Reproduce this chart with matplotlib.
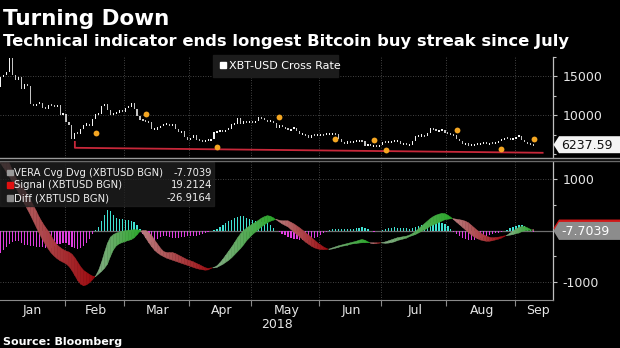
import numpy as np
import pandas as pd
import matplotlib
matplotlib.use("Agg")
import matplotlib.pyplot as plt
from matplotlib.patches import Polygon, Rectangle
from matplotlib.lines import Line2D

plt.rcParams["axes.unicode_minus"] = False
plt.rcParams["font.family"] = ["DejaVu Sans"]

# ---------------------------------------------------------------- data
# XBT-USD cross rate, weekday closes 2018-01-01 .. 2018-09-11
close_jan = [13657, 14982, 15201, 15599, 17429, 15170, 14595, 14973, 13405, 13980,
             13819, 11490, 11188, 11474, 11607, 10931, 10868, 11359, 11259, 11171,
             11296, 10106, 10221]
close_feb = [9170, 8830, 6955, 7754, 7621, 8265, 8736, 8926, 8598, 9494,
             10166, 10233, 11225, 11403, 10690, 10005, 10301, 10366, 10725, 10397]
close_mar = [10951, 11086, 11573, 10779, 9965, 9395, 9337, 9205, 9194, 8269,
             8300, 8338, 8630, 8913, 8929, 8728, 8879, 8209, 7833, 7954,
             7165, 6891]
close_apr = [7083, 7456, 6854, 6811, 6636, 6770, 6834, 6968, 7889, 7895,
             8058, 7902, 8163, 8294, 8845, 8931, 9652, 8864, 9279, 8988, 9240]
close_may = [9119, 9235, 9744, 9700, 9373, 9234, 9325, 9043, 8441, 8716,
             8510, 8368, 8094, 8250, 8418, 8041, 7557, 7587, 7480, 7135,
             7472, 7406, 7494]
close_jun = [7541, 7514, 7633, 7653, 7678, 7624, 6906, 6582, 6349, 6675,
             6456, 6689, 6729, 6751, 6720, 6059, 6249, 6093, 6157, 5903, 6218]
close_jul = [6614, 6529, 6597, 6639, 6673, 6741, 6329, 6394, 6228, 6239,
             6741, 7321, 7370, 7467, 7355, 7711, 8424, 8181, 7951, 8165,
             8180, 7780]
close_aug = [7625, 7567, 7434, 6952, 6753, 6306, 6376, 6150, 6239, 6274,
             6323, 6386, 6612, 6284, 6493, 6412, 6532, 6707, 6914, 7092,
             7047, 6979, 7037]
close_sep = [7261, 7362, 6793, 6530, 6422, 6251, 6237.59]

# VERA convergence/divergence line and its histogram (Diff)
vera_jan = [1350, 1300, 1220, 1130, 1040, 940, 840, 740, 630, 520, 410, 300, 180,
            60, -60, -170, -270, -360, -440, -500, -550, -590, -620]
vera_feb = [-650, -700, -780, -880, -980, -1050, -1080, -1060, -1020, -960,
            -890, -780, -620, -430, -250, -130, -80, -50, -30, -15]
vera_mar = [-5, 5, 10, 15, 15, 5, -60, -150, -240, -320, -390, -440, -480, -510,
            -540, -560, -580, -600, -620, -640, -660, -680]
vera_apr = [-700, -720, -740, -755, -765, -775, -770, -740, -720, -690, -630,
            -560, -480, -400, -320, -230, -140, -60, 0, 50, 90]
vera_may = [130, 160, 200, 240, 270, 290, 280, 250, 210, 170, 130, 100, 70, 20,
            -30, -80, -130, -180, -230, -270, -310, -340, -360]
vera_jun = [-370, -375, -370, -360, -340, -320, -300, -285, -270, -255, -240,
            -225, -210, -190, -175, -190, -220, -250, -260, -255, -245]
vera_jul = [-235, -220, -200, -180, -160, -140, -130, -120, -110, -90, -60, -20,
            30, 80, 130, 180, 230, 270, 300, 320, 335, 330]
vera_aug = [300, 260, 210, 160, 110, 60, 10, -40, -90, -130, -160, -185, -200,
            -210, -210, -200, -185, -170, -150, -120, -90, -50, -10]
vera_sep = [30, 60, 80, 75, 50, 20, -7.70394]

diff_jan = [-450, -430, -380, -320, -260, -220, -200, -210, -250, -280, -290, -300,
            -310, -320, -320, -330, -340, -350, -340, -300, -270, -260, -250]
diff_feb = [-250, -280, -320, -350, -360, -340, -300, -240, -160, -70,
            10, 70, 180, 310, 410, 380, 300, 250, 230, 220]
diff_mar = [210, 200, 190, 160, 100, 20, -60, -150, -200, -220, -200, -170, -130,
            -100, -110, -130, -150, -150, -140, -130, -120, -110]
diff_apr = [-110, -110, -100, -90, -70, -50, -30, -10, 10, 30, 60, 100, 140, 180,
            210, 240, 270, 290, 280, 250, 230]
diff_may = [210, 190, 180, 170, 160, 140, 100, 50, -10, -30, -60, -90, -120, -140,
            -160, -170, -180, -185, -185, -180, -170, -150, -120]
diff_jun = [-90, -55, -20, 10, 20, 25, 30, 25, 30, 35, 30, 35, 45, 55, 65, 50, 20,
            -10, -20, -15, -5]
diff_jul = [10, 30, 45, 55, 60, 55, 50, 45, 40, 30, 40, 60, 80, 100, 120, 140, 150,
            160, 170, 160, 150, 120]
diff_aug = [80, 30, -20, -60, -100, -140, -170, -190, -190, -180, -160, -140, -120,
            -100, -80, -60, -50, -40, -30, -15, 10, 40, 70]
diff_sep = [90, 110, 100, 80, 50, 15, -26.91638]

# signal markers on the price panel (weekday index, level)
signal_idx = [33, 50, 74, 95, 114, 127, 131, 155, 170, 181]
signal_lvl = [7730, 10130, 5940, 9740, 6920, 6800, 5510, 8115, 5680, 6920]

# support line under the price (weekday index, level)
support_idx = [26, 26, 184]
support_lvl = [6600, 5840, 5200]

month_names = ["Jan", "Feb", "Mar", "Apr", "May", "Jun", "Jul", "Aug", "Sep"]

close = np.array(close_jan + close_feb + close_mar + close_apr + close_may +
                 close_jun + close_jul + close_aug + close_sep, dtype=float)
vera = np.array(vera_jan + vera_feb + vera_mar + vera_apr + vera_may +
                vera_jun + vera_jul + vera_aug + vera_sep, dtype=float)
diff = np.array(diff_jan + diff_feb + diff_mar + diff_apr + diff_may +
                diff_jun + diff_jul + diff_aug + diff_sep, dtype=float)
signal = vera - diff

dates = pd.bdate_range("2018-01-01", periods=len(close))
idx = np.arange(len(close))

# month boundaries on the weekday index
months = dates.month
bounds = [0] + [i for i in range(1, len(dates)) if months[i] != months[i - 1]]
XMIN, XMAX = 0.71, 187.5
edges = bounds + [190]
centers = [(edges[k] + edges[k + 1]) / 2 for k in range(len(bounds))]

# ---------------------------------------------------------------- figure
W, H = 620, 348
fig = plt.figure(figsize=(W / 100, H / 100), dpi=100, facecolor="black")

ax1 = fig.add_axes([0, 1 - 158 / H, 553 / W, (158 - 57) / H])
ax2 = fig.add_axes([0, 1 - 300 / H, 553 / W, (300 - 162) / H])

GRID = dict(color="#5a5a5a", lw=0.6, ls=(0, (1, 2)))
TICKC = "#c0c0c0"
for ax in (ax1, ax2):
    ax.set_facecolor("black")
    for s in ("left", "top", "bottom"):
        ax.spines[s].set_visible(False)
    ax.spines["right"].set_color(TICKC)
    ax.spines["right"].set_linewidth(0.9)
    ax.yaxis.tick_right()
    ax.tick_params(axis="y", which="major", colors=TICKC, labelcolor="#e6e6e6",
                   labelsize=9, length=3, width=0.8, pad=4)
    ax.tick_params(axis="y", which="minor", colors=TICKC, length=2.5, width=0.8)
    ax.set_xlim(XMIN, XMAX)
    for b in bounds[1:]:
        ax.axvline(b - 0.5, zorder=0, **GRID)

# ---- price panel
ax1.set_ylim(4530, 17380)
ax1.set_yticks([10000, 15000])
ax1.set_yticklabels(["10000", "15000"])
ax1.set_yticks([5000, 7500, 12500, 17500], minor=True)
ax1.tick_params(axis="x", which="both", bottom=False, labelbottom=False)
for v in (10000, 15000):
    ax1.axhline(v, zorder=0, **GRID)

opens = np.concatenate([[close[0]], close[:-1]])
lo = np.minimum(opens, close)
hi = np.maximum(opens, close)
mid = (lo + hi) / 2
h = np.maximum(hi - lo, 260)
bottoms = np.where(hi - lo >= 260, lo, mid - 130)
up = close >= opens
ax1.bar(idx[up], h[up], bottom=bottoms[up], width=0.38, color="#f4f4f4", lw=0, zorder=3)
ax1.bar(idx[~up], h[~up], bottom=bottoms[~up], width=0.38, color="#c4c4c4", lw=0, zorder=3)
ax1.plot(support_idx, support_lvl, color="#c8283a", lw=1.3, zorder=2)
ax1.plot(signal_idx, signal_lvl, "o", color="#f4a622", ms=4.2, mec="none", zorder=4)

# ---- VERA panel
ax2.set_ylim(-1357, 1338)
ax2.set_yticks([-1000, 1000])
ax2.set_yticklabels(["-1000", "1000"])
ax2.set_yticks([-500, 500], minor=True)
for v in (-1000, 1000):
    ax2.axhline(v, zorder=0, **GRID)
ax2.axhline(0, color="#6e6e6e", lw=0.9, zorder=1)

bar_cols = np.where(diff >= 0, "#3fe3d3", "#e03ee0")
ax2.bar(idx, diff, width=0.42, color=bar_cols, lw=0, zorder=2)

# ribbon between VERA and signal, tinted by side and by age of the run
sign = np.sign(diff)
run_start = np.zeros(len(diff), dtype=int)
run_end = np.zeros(len(diff), dtype=int)
s = 0
for i in range(1, len(diff) + 1):
    if i == len(diff) or sign[i] != sign[s]:
        run_start[s:i] = s
        run_end[s:i] = i - 1
        s = i

pale_r, deep_r = np.array([0.74, 0.56, 0.56]), np.array([0.62, 0.04, 0.06])
pale_g, deep_g = np.array([0.58, 0.68, 0.58]), np.array([0.16, 0.66, 0.16])


def ribbon_color(i):
    span = max(run_end[i] - run_start[i], 1)
    t = 0.15 + 0.85 * (i - run_start[i]) / span
    if diff[i] >= 0:
        return pale_g + (deep_g - pale_g) * t
    return pale_r + (deep_r - pale_r) * t


for i in range(len(idx) - 1):
    x0, x1 = idx[i], idx[i + 1]
    a0, a1 = vera[i], vera[i + 1]
    b0, b1 = signal[i], signal[i + 1]
    if diff[i] * diff[i + 1] < 0:
        f = diff[i] / (diff[i] - diff[i + 1])
        xc = x0 + f
        yc = a0 + (a1 - a0) * f
        c0 = ribbon_color(i)
        c1 = ribbon_color(i + 1)
        ax2.fill([x0, xc, x0], [a0, yc, b0], color=c0, lw=0.3, ec=c0, zorder=3)
        ax2.fill([xc, x1, x1], [yc, a1, b1], color=c1, lw=0.3, ec=c1, zorder=3)
    else:
        c = ribbon_color(i)
        ax2.fill([x0, x1, x1, x0], [a0, a1, b1, b0], color=c, lw=0.3, ec=c, zorder=3)

# month axis
ax2.spines["bottom"].set_visible(True)
ax2.spines["bottom"].set_color("#8a8a8a")
ax2.set_xticks([b - 0.5 for b in bounds[1:]])
ax2.set_xticklabels([])
ax2.tick_params(axis="x", which="major", colors="#8a8a8a", length=4, width=0.8)
ax2.set_xticks(centers, minor=True)
ax2.set_xticklabels(month_names, minor=True)
ax2.tick_params(axis="x", which="minor", length=0, labelsize=9,
                labelcolor="#e6e6e6", pad=3)

# ---------------------------------------------------------------- overlay
ov = fig.add_axes([0, 0, 1, 1], zorder=10)
ov.set_xlim(0, W)
ov.set_ylim(H, 0)
ov.axis("off")
ov.patch.set_alpha(0)


def to_px(ax, x, y):
    px, py = ax.transData.transform((x, y))
    return px, H - py


ov.text(3, 25, "Turning Down", color="white", fontsize=15.5, weight="bold",
        va="baseline")
ov.text(3, 46, "Technical indicator ends longest Bitcoin buy streak since July",
        color="white", fontsize=11.8, weight="bold", va="baseline")
ov.text(3, 345, "Source: Bloomberg", color="white", fontsize=8, weight="bold",
        va="baseline")
ov.text(277, 324, "2018", color="#e6e6e6", fontsize=9, ha="center", va="center")

# panel separator
ov.add_line(Line2D([0, W], [158, 158], color="#9a9a9a", lw=1.0))
ov.add_line(Line2D([0, W], [161, 161], color="#6a6a6a", lw=1.0))

# price legend
ov.add_patch(Rectangle((213, 55), 125, 22, color="#1c1c1c", zorder=1))
ov.add_patch(Rectangle((220, 62), 5.5, 5.5, color="white", zorder=2))
ov.text(229, 66, "XBT-USD Cross Rate", color="white", fontsize=8, va="center", zorder=2)

# indicator legend
ov.add_patch(Rectangle((0, 162), 214, 44, color="#202020", alpha=0.78, zorder=1))
rows = [("VERA Cvg Dvg (XBTUSD BGN)", vera[-1], "#9a9a9a"),
        ("Signal (XBTUSD BGN)", signal[-1], "#e01010"),
        ("Diff (XBTUSD BGN)", diff[-1], "#8a8a8a")]
for k, (name, val, col) in enumerate(rows):
    y = 172.5 + 12.8 * k
    ov.add_patch(Rectangle((7, y - 3), 5.5, 5.5, color=col, zorder=2))
    ov.text(14, y, name, color="#f0f0f0", fontsize=7.2, va="center", zorder=2)
    ov.text(212, y, f"{val:.4f}", color="#f0f0f0", fontsize=7.2, va="center",
            ha="right", zorder=2)


def tag(y, fc, text, tc, hh=8.5):
    pts = [(553.5, y), (559, y - hh), (W, y - hh), (W, y + hh), (559, y + hh)]
    ov.add_patch(Polygon(pts, closed=True, fc=fc, ec="none", zorder=3))
    if text:
        ov.text(561, y + 0.5, text, color=tc, fontsize=9, va="center", zorder=4)


_, y_close = to_px(ax1, idx[-1], close[-1])
tag(y_close, "#f4f4f4", f"{close[-1]:.2f}", "#111111")
_, y_sig = to_px(ax2, idx[-1], signal[-1])
tag(y_sig - 1.5, "#d01818", "", "white")
_, y_vera = to_px(ax2, idx[-1], vera[-1])
tag(y_vera, "#8c8c8c", f"{vera[-1]:.4f}", "white", hh=9)

fig.savefig("out.png", dpi=100, facecolor="black")
